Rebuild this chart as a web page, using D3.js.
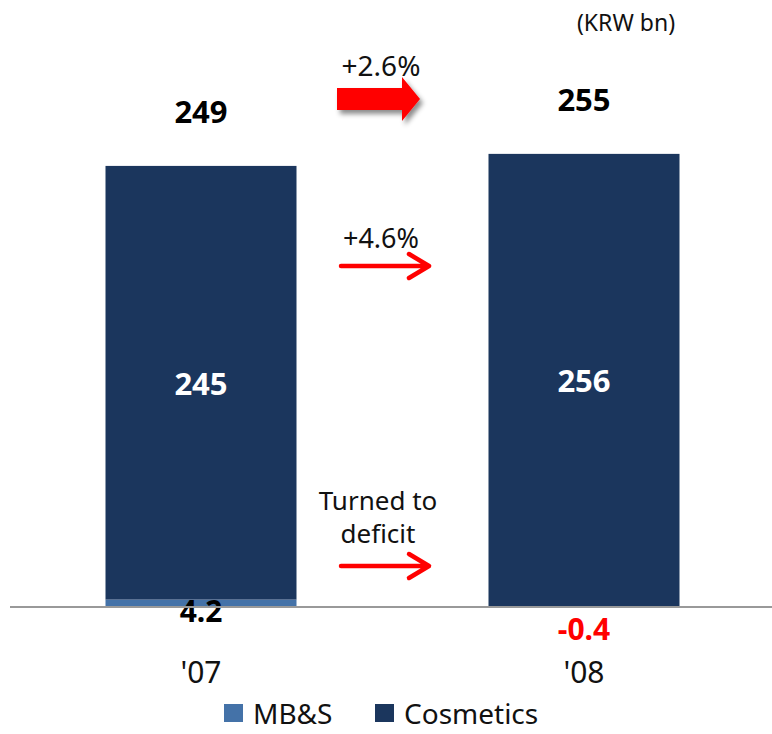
<!DOCTYPE html>
<html>
<head>
<meta charset="utf-8">
<script src="https://cdn.jsdelivr.net/npm/d3@7"></script>
<style>
  html, body { margin: 0; padding: 0; background: #fff; }
  svg { display: block; font-family: "Noto Sans", "Open Sans", sans-serif; }
</style>
</head>
<body>
<svg id="chart" width="772" height="734"></svg>
<script>
// Sales by division (KRW bn)
const categories = ["'07", "'08"];
const seriesNames = ["MB&S", "Cosmetics"];
const mbsValues = [4.2, -0.4];
const cosmeticsValues = [245, 256];
const totals = [249, 255];
const colors = { "MB&S": "#4472a8", "Cosmetics": "#1b365d" };

const svg = d3.select("#chart");
const baseY = 607;

// band centres of the two years
const x = d3.scalePoint().domain(categories).range([201, 584]);
const barW = 191;
const y = d3.scaleLinear().domain([0, 300]).range([baseY, baseY - 300 * 1.77]);

// bars: MB&S starts at zero (positive up, negative down), cosmetics stacks on the positive part
categories.forEach((c, i) => {
  const m = mbsValues[i];
  const cs = cosmeticsValues[i];
  const cx = x(c);
  const mTop = m >= 0 ? y(m) : y(0);
  const mBot = m >= 0 ? y(0) : y(m);
  svg.append("rect").attr("x", cx - barW / 2).attr("width", barW)
    .attr("y", mTop).attr("height", Math.max(0, mBot - mTop))
    .attr("fill", colors["MB&S"]);
  const base = Math.max(0, m);
  svg.append("rect").attr("x", cx - barW / 2).attr("width", barW)
    .attr("y", y(base + cs)).attr("height", y(base) - y(base + cs))
    .attr("fill", colors["Cosmetics"]);
  // cosmetics value inside bar
  svg.append("text").attr("x", cx).attr("y", (y(base) + y(base + cs)) / 2 + 12)
    .attr("text-anchor", "middle").attr("fill", "#fff")
    .attr("font-size", 31).attr("font-weight", "bold").text(cs);
  // total above bar
  svg.append("text").attr("x", cx).attr("y", y(base + cs) - 43)
    .attr("text-anchor", "middle").attr("fill", "#000")
    .attr("font-size", 31).attr("font-weight", "bold").text(totals[i]);
  // MB&S value below baseline
  svg.append("text").attr("x", cx).attr("y", m >= 0 ? 622 : 640)
    .attr("text-anchor", "middle").attr("fill", m >= 0 ? "#000" : "#ff0000")
    .attr("font-size", 30).attr("font-weight", "bold").text(m);
  // category label
  svg.append("text").attr("x", cx).attr("y", 683)
    .attr("text-anchor", "middle").attr("fill", "#111")
    .attr("font-size", 30).text(c);
});

// baseline
svg.append("line").attr("x1", 10).attr("x2", 772).attr("y1", baseY).attr("y2", baseY)
  .attr("stroke", "#999").attr("stroke-width", 2);

// unit label
svg.append("text").attr("x", 626).attr("y", 31).attr("text-anchor", "middle")
  .attr("font-size", 23).attr("fill", "#111").text("(KRW bn)");

// growth annotations
const defs = svg.append("defs");
const f = defs.append("filter").attr("id", "shadow").attr("x", "-20%").attr("y", "-20%")
  .attr("width", "150%").attr("height", "160%");
f.append("feDropShadow").attr("dx", 3).attr("dy", 4).attr("stdDeviation", 2.5)
  .attr("flood-color", "#000").attr("flood-opacity", 0.45);

svg.append("text").attr("x", 381).attr("y", 76).attr("text-anchor", "middle")
  .attr("font-size", 28).attr("fill", "#111").text("+2.6%");
svg.append("path")
  .attr("d", "M337,88 L402,88 L402,77 L420,99 L402,121 L402,110 L337,110 Z")
  .attr("fill", "#ff0000").attr("filter", "url(#shadow)");

function thinArrow(yy) {
  svg.append("path")
    .attr("d", `M341,${yy} L428,${yy} M409,${yy - 12} L429,${yy} L409,${yy + 12}`)
    .attr("fill", "none").attr("stroke", "#ff0000").attr("stroke-width", 4.5)
    .attr("stroke-linecap", "round").attr("stroke-linejoin", "round");
}

svg.append("text").attr("x", 381).attr("y", 248).attr("text-anchor", "middle")
  .attr("font-size", 27).attr("fill", "#111").text("+4.6%");
thinArrow(266);

svg.append("text").attr("x", 378).attr("y", 510).attr("text-anchor", "middle")
  .attr("font-size", 26).attr("fill", "#111").text("Turned to");
svg.append("text").attr("x", 378).attr("y", 543).attr("text-anchor", "middle")
  .attr("font-size", 26).attr("fill", "#111").text("deficit");
thinArrow(566);

// legend
const legendX = [224, 375];
seriesNames.forEach((s, i) => {
  svg.append("rect").attr("x", legendX[i]).attr("y", 704).attr("width", 19).attr("height", 18)
    .attr("fill", colors[s]);
  svg.append("text").attr("x", legendX[i] + 29).attr("y", 724)
    .attr("font-size", 28).attr("fill", "#111").text(s);
});
</script>
</body>
</html>
